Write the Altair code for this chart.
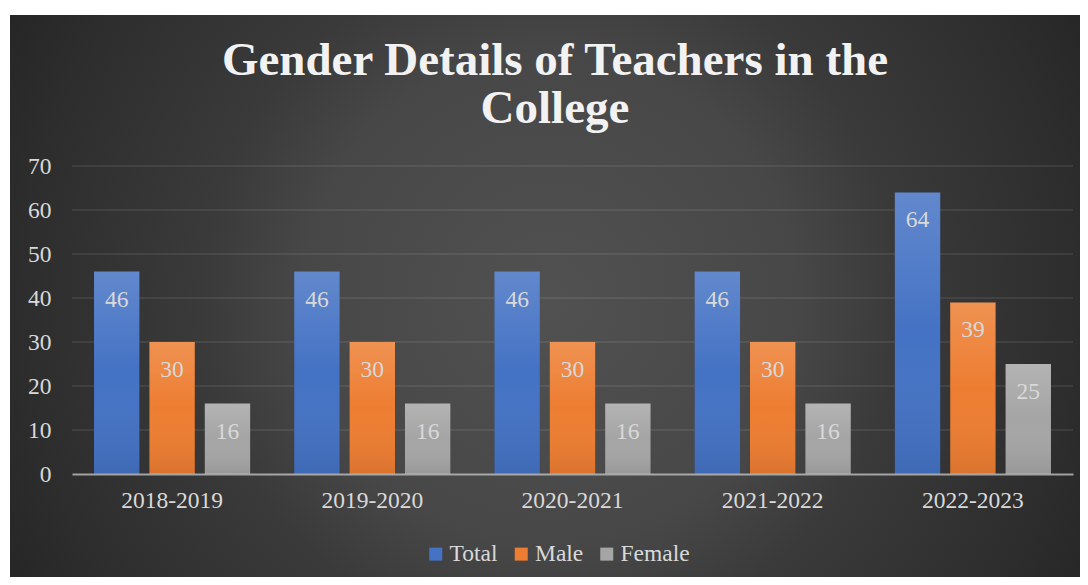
import altair as alt
import pandas as pd

# ---- data ----
years = ["2018-2019", "2019-2020", "2020-2021", "2021-2022", "2022-2023"]
series = ["Total", "Male", "Female"]
total = [46, 46, 46, 46, 64]
male = [30, 30, 30, 30, 39]
female = [16, 16, 16, 16, 25]
y_ticks = [0, 10, 20, 30, 40, 50, 60, 70]
colors = ["#4472C4", "#ED7D31", "#A5A5A5"]
title_lines = ["Gender Details of Teachers in the", "College"]

rows = []
for i, yr in enumerate(years):
    for s, vals in zip(series, [total, male, female]):
        rows.append({"year": yr, "series": s, "value": vals[i]})
df = pd.DataFrame(rows)
grid_df = pd.DataFrame({"value": y_ticks[1:]})
title_df = pd.DataFrame({"title": ["\n".join(title_lines)]})
one = alt.Data(values=[{"k": 1}])

FONT = "Liberation Serif"
LABEL = "#d9d9d9"
W, H = 1001, 308
PAD = {"left": 64, "top": 158, "right": 7, "bottom": 103}

y_scale = alt.Scale(domain=[0, 70], nice=False, zero=True)
x_enc = alt.X(
    "year:N", sort=years,
    scale=alt.Scale(paddingInner=0.22, paddingOuter=0.11),
    axis=alt.Axis(title=None, labelAngle=0, labelFont=FONT, labelFontSize=23.5,
                  labelColor=LABEL, labelPadding=14, ticks=False, domain=True,
                  domainColor="#bfbfbf", domainWidth=2, domainOpacity=0.8,
                  grid=False, zindex=1),
)
xo_enc = alt.XOffset("series:N", sort=series,
                     scale=alt.Scale(domain=series, paddingInner=0.18, paddingOuter=0))
y_axis = alt.Axis(title=None, values=y_ticks, labelFont=FONT, labelFontSize=23.5,
                  labelColor=LABEL, labelPadding=21, ticks=False, domain=False,
                  grid=False, zindex=1)
y_enc = alt.Y("value:Q", scale=y_scale, axis=y_axis)

# background: circular radial gradient (square box so the gradient stays round)
bg_grad = alt.RadialGradient(
    gradient="radial", x1=0.5, y1=0.5, r1=0, x2=0.5, y2=0.5, r2=0.5,
    stops=[alt.GradientStop(color="#515151", offset=0),
           alt.GradientStop(color="#474747", offset=0.4),
           alt.GradientStop(color="#3a3a3a", offset=0.56),
           alt.GradientStop(color="#2d2d2d", offset=0.85),
           alt.GradientStop(color="#252525", offset=1)],
)
bg = alt.Chart(one).mark_rect(fill=bg_grad).encode(
    x=alt.value(-142), x2=alt.value(1098), y=alt.value(-486), y2=alt.value(754))
cover_top = alt.Chart(one).mark_rect(fill="white").encode(
    x=alt.value(-80), x2=alt.value(1020), y=alt.value(-170), y2=alt.value(-151))
cover_left = alt.Chart(one).mark_rect(fill="white").encode(
    x=alt.value(-80), x2=alt.value(-62), y=alt.value(-170), y2=alt.value(420))

grid = alt.Chart(grid_df).mark_rule(color="#ffffff", opacity=0.1, strokeWidth=1.5).encode(
    y=y_enc)

title = alt.Chart(title_df).mark_text(
    font=FONT, fontSize=47, fontWeight="bold", color="#f2f2f2",
    align="center", baseline="alphabetic", lineBreak="\n", lineHeight=48,
).encode(text="title:N", x=alt.value(483), y=alt.value(-91))

shadow = alt.Chart(df).mark_bar(color="#000000", opacity=0.22, xOffset=4).encode(
    x=x_enc, xOffset=xo_enc, y=y_enc)

bars = alt.Chart(df).mark_bar().encode(
    x=x_enc, xOffset=xo_enc, y=y_enc,
    color=alt.Color("series:N", sort=series,
                    scale=alt.Scale(domain=series, range=colors),
                    legend=alt.Legend(title=None, orient="none", legendX=352, legendY=376,
                                      direction="horizontal", symbolType="square",
                                      symbolSize=169, symbolStrokeWidth=0,
                                      labelFont=FONT, labelFontSize=23.5, labelColor=LABEL,
                                      labelOffset=2, columnPadding=11.5)),
)
shade = alt.LinearGradient(
    gradient="linear", x1=0, y1=0, x2=0, y2=1,
    stops=[alt.GradientStop(color="rgba(255,255,255,0.16)", offset=0),
           alt.GradientStop(color="rgba(255,255,255,0.0)", offset=0.5),
           alt.GradientStop(color="rgba(0,0,0,0.08)", offset=1)],
)
overlay = alt.Chart(df).mark_bar(fill=shade).encode(x=x_enc, xOffset=xo_enc, y=y_enc)
labels = alt.Chart(df).mark_text(
    font=FONT, fontSize=23.5, color=LABEL, baseline="alphabetic", dy=35,
).encode(x=x_enc, xOffset=xo_enc, y=y_enc, text="value:Q")

chart = alt.layer(
    bg, cover_top, cover_left, grid, title, shadow, bars, overlay, labels
).properties(
    width=W, height=H, padding=PAD, autosize=alt.AutoSizeParams(type="none"),
).configure(background="white").configure_view(stroke=None).configure_legend(
    labelFont=FONT, labelFontSize=23.5, labelColor=LABEL,
)

chart.save("out.html", embed_options={"renderer": "svg", "actions": False})
